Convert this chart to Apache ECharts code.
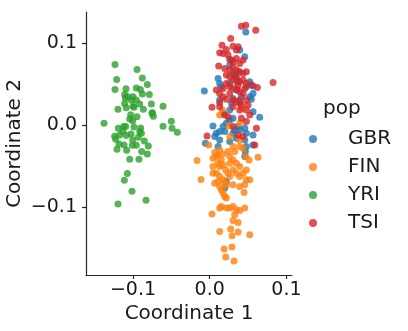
<!DOCTYPE html>
<html>
<head>
<meta charset="utf-8">
<script src="https://cdn.jsdelivr.net/npm/echarts@6/dist/echarts.min.js"></script>
<style>
  html, body { margin: 0; padding: 0; background: #fff; }
  #chart { width: 408px; height: 331px; }
</style>
</head>
<body>
<div id="chart"></div>
<script>
const populations = ['GBR', 'FIN', 'YRI', 'TSI'];
const popColors = ['#1f77b4', '#ff7f0e', '#2ca02c', '#d62728'];
const tickValues = [-0.1, 0.0, 0.1];

// [coordinate 1, coordinate 2]
const gbrPoints = [
  [-0.0070, 0.0419], [0.0109, 0.0573], [0.0130, 0.0512], [0.0152, 0.0472], [0.0261, 0.0736],
  [0.0283, 0.0797], [0.0304, 0.0634], [0.0348, 0.0593], [0.0370, 0.0654], [0.0391, 0.0919],
  [0.0457, 0.0837], [0.0522, 0.0350], [0.0565, 0.0390], [0.0543, 0.0317], [0.0565, 0.0167],
  [0.0652, 0.0098], [0.0457, -0.0037], [0.0478, -0.0098], [0.0457, -0.0179], [0.0478, -0.0260],
  [0.0457, -0.0382], [0.0565, -0.0118], [0.0465, -0.0321], [0.0304, 0.0085], [0.0261, 0.0065],
  [0.0217, 0.0024], [0.0174, -0.0016], [0.0130, -0.0077], [0.0087, -0.0098], [0.0043, -0.0008],
  [-0.0057, -0.0220], [0.0109, -0.0260], [0.0130, -0.0179], [0.0304, -0.0098], [0.0348, -0.0159],
  [0.0391, -0.0057], [0.0326, -0.0057], [0.0261, -0.0199], [0.0174, 0.0146], [0.0261, 0.0187],
  [0.0283, 0.0268], [0.0304, 0.0329], [0.0391, 0.0268], [0.0413, 0.0350], [0.0348, 0.0431],
  [0.0130, 0.0309], [0.0470, 0.1142], [0.0522, 0.0533], [0.0565, 0.0480], [0.0478, 0.0472],
  [0.0370, -0.0016], [0.0565, -0.0240], [0.0217, -0.0687], [0.0196, -0.0768], [0.0065, -0.0138],
  [0.0196, -0.0077], [0.0357, 0.0533], [0.0261, 0.0512]
];
const finPoints = [
  [-0.0013, -0.0240], [-0.0165, -0.0431], [-0.0113, -0.0663], [0.0030, -0.1085], [0.0065, -0.0333],
  [0.0087, -0.0382], [0.0109, -0.0463], [0.0130, -0.0504], [0.0152, -0.0423], [0.0174, -0.0484],
  [0.0043, -0.0504], [0.0087, -0.0585], [0.0130, -0.0626], [0.0174, -0.0667], [0.0196, -0.0707],
  [0.0217, -0.0728], [0.0130, -0.0748], [0.0152, -0.0789], [0.0174, -0.0829], [0.0196, -0.0870],
  [0.0217, -0.0890], [0.0261, -0.0382], [0.0304, -0.0423], [0.0348, -0.0463], [0.0391, -0.0504],
  [0.0304, -0.0545], [0.0348, -0.0585], [0.0391, -0.0626], [0.0435, -0.0585], [0.0478, -0.0545],
  [0.0478, -0.0667], [0.0457, -0.0728], [0.0522, -0.0667], [0.0448, -0.0821], [0.0304, -0.0728],
  [0.0261, -0.0626], [0.0261, -0.0463], [0.0326, -0.0321], [0.0391, -0.0260], [0.0435, -0.0280],
  [0.0513, -0.0423], [0.0630, -0.0390], [0.0130, -0.1012], [0.0152, -0.0992], [0.0217, -0.1012],
  [0.0261, -0.1012], [0.0304, -0.0992], [0.0348, -0.1033], [0.0391, -0.1041], [0.0457, -0.1012],
  [0.0326, -0.1093], [0.0370, -0.1187], [0.0304, -0.1163], [0.0130, -0.1297], [0.0274, -0.1268],
  [0.0291, -0.1350], [0.0370, -0.1305], [0.0522, -0.1337], [0.0187, -0.1512], [0.0209, -0.1610],
  [0.0291, -0.1488], [0.0317, -0.1659], [0.0239, -0.0321], [0.0261, -0.0138], [0.0391, -0.0179],
  [0.0304, -0.0260], [0.0043, -0.0402], [0.0109, -0.0362], [0.0252, -0.0008], [0.0165, 0.0187],
  [0.0130, 0.0126], [0.0391, 0.0024], [0.0422, 0.0207], [0.0043, -0.0585], [0.0065, -0.0707],
  [0.0109, -0.0687], [0.0391, -0.0748], [0.0470, -0.0382], [0.0209, -0.0545], [0.0239, -0.0585],
  [0.0174, -0.0350], [0.0130, -0.0301]
];
const yriPoints = [
  [-0.1235, 0.0744], [-0.0948, 0.0683], [-0.1213, 0.0561], [-0.0878, 0.0577], [-0.0813, 0.0500],
  [-0.1235, 0.0439], [-0.1091, 0.0447], [-0.0957, 0.0455], [-0.0904, 0.0439], [-0.1109, 0.0378],
  [-0.1000, 0.0350], [-0.0787, 0.0378], [-0.1100, 0.0333], [-0.0878, 0.0382], [-0.1022, 0.0309],
  [-0.1109, 0.0268], [-0.1000, 0.0236], [-0.0761, 0.0260], [-0.0609, 0.0232], [-0.1196, 0.0195],
  [-0.1087, 0.0215], [-0.0987, 0.0220], [-0.0865, 0.0195], [-0.0748, 0.0154], [-0.0735, 0.0110],
  [-0.1030, 0.0130], [-0.1043, 0.0077], [-0.1004, 0.0057], [-0.1096, -0.0016], [-0.0987, -0.0020],
  [-0.1191, -0.0037], [-0.1239, -0.0134], [-0.1122, -0.0016], [-0.0900, -0.0033], [-0.1026, -0.0106],
  [-0.0913, -0.0077], [-0.0930, -0.0146], [-0.1087, -0.0126], [-0.1226, -0.0171], [-0.1004, -0.0179],
  [-0.0957, -0.0244], [-0.0852, -0.0191], [-0.0800, -0.0252], [-0.1183, -0.0228], [-0.1117, -0.0240],
  [-0.1009, -0.0244], [-0.1209, -0.0293], [-0.1083, -0.0305], [-0.0887, -0.0321], [-0.0813, -0.0350],
  [-0.1043, -0.0415], [-0.0922, -0.0415], [-0.1074, -0.0589], [-0.1113, -0.0671], [-0.1013, -0.0805],
  [-0.0830, -0.0915], [-0.1196, -0.0963], [-0.1378, 0.0024], [-0.0609, -0.0012], [-0.0500, 0.0049],
  [-0.0491, -0.0037], [-0.0422, -0.0085], [-0.0752, 0.0146], [-0.0957, 0.0309], [-0.1065, 0.0350],
  [-0.0913, 0.0260], [-0.0948, 0.0106], [-0.1130, -0.0077], [-0.0891, -0.0098], [-0.1174, -0.0118]
];
const tsiPoints = [
  [0.0413, 0.1211], [0.0470, 0.1224], [0.0600, 0.1163], [0.0826, 0.0524], [0.0274, 0.1061],
  [0.0161, 0.0980], [0.0217, 0.0927], [0.0304, 0.0967], [0.0370, 0.0959], [0.0348, 0.0919],
  [0.0130, 0.0886], [0.0174, 0.0878], [0.0239, 0.0858], [0.0261, 0.0805], [0.0304, 0.0776],
  [0.0348, 0.0817], [0.0391, 0.0756], [0.0435, 0.0797], [0.0117, 0.0724], [0.0304, 0.0715],
  [0.0348, 0.0675], [0.0391, 0.0654], [0.0435, 0.0634], [0.0478, 0.0654], [0.0217, 0.0614],
  [0.0261, 0.0593], [0.0304, 0.0553], [0.0348, 0.0573], [0.0391, 0.0533], [0.0435, 0.0553],
  [0.0478, 0.0512], [0.0543, 0.0492], [0.0622, 0.0463], [0.0217, 0.0512], [0.0174, 0.0451],
  [0.0261, 0.0472], [0.0304, 0.0451], [0.0357, 0.0439], [0.0391, 0.0411], [0.0435, 0.0390],
  [0.0130, 0.0390], [0.0174, 0.0350], [0.0217, 0.0317], [0.0304, 0.0309], [0.0348, 0.0289],
  [0.0391, 0.0309], [0.0478, 0.0309], [0.0500, 0.0248], [0.0130, 0.0276], [0.0030, 0.0220],
  [0.0130, 0.0228], [0.0196, 0.0126], [0.0239, 0.0106], [0.0391, 0.0187], [0.0478, 0.0187],
  [0.0522, 0.0126], [0.0609, -0.0037], [0.0413, 0.0085], [0.0478, 0.0045], [0.0587, -0.0240],
  [0.0435, -0.0138], [-0.0035, -0.0130], [0.0304, -0.0016], [0.0370, -0.0118], [0.0261, 0.0390],
  [0.0196, 0.0695], [0.0261, 0.0675], [0.0326, 0.0614], [0.0370, 0.0492], [0.0457, 0.0451],
  [0.0087, 0.0431], [0.0304, 0.0228], [0.0413, 0.0248]
];
const popPoints = [gbrPoints, finPoints, yriPoints, tsiPoints];

const fontFamily = '"DejaVu Sans", sans-serif';
const tickFmt = (v) => {
  const s = Math.abs(v).toFixed(1);
  return v < -1e-9 ? '\u2212' + s : s;
};

const chart = echarts.init(document.getElementById('chart'));

const axisCommon = {
  type: 'value',
  nameLocation: 'middle',
  nameMoveOverlap: false,
  nameTextStyle: { fontFamily, fontSize: 20, color: '#1a1a1a' },
  axisLine: { show: true, onZero: false, lineStyle: { color: '#262626', width: 1.2 } },
  axisTick: { show: true, length: 4, lineStyle: { color: '#262626', width: 1.2 }, customValues: tickValues },
  axisLabel: { fontFamily, fontSize: 19, color: '#1a1a1a', customValues: tickValues, formatter: tickFmt },
  splitLine: { show: false }
};

const option = {
  backgroundColor: '#fff',
  animation: false,
  title: {
    text: 'pop',
    left: 318,
    top: 94,
    textStyle: { fontFamily, fontSize: 20, fontWeight: 'normal', color: '#1a1a1a' }
  },
  legend: {
    orient: 'vertical',
    left: 304,
    top: 124,
    itemWidth: 8,
    itemHeight: 8,
    itemGap: 8,
    icon: 'circle',
    data: populations,
    textStyle: { fontFamily, fontSize: 20, color: '#1a1a1a', padding: [0, 0, 0, 26] }
  },
  grid: { left: 86, right: 116, top: 12, bottom: 56, outerBoundsMode: 'none' },
  xAxis: Object.assign({}, axisCommon, {
    name: 'Coordinate 1',
    nameGap: 29,
    min: -0.1613,
    max: 0.1073,
    axisLabel: Object.assign({}, axisCommon.axisLabel, { margin: 6 })
  }),
  yAxis: Object.assign({}, axisCommon, {
    name: 'Coordinate 2',
    nameGap: 61,
    min: -0.183,
    max: 0.1385,
    axisLabel: Object.assign({}, axisCommon.axisLabel, { margin: 9 })
  }),
  series: populations.map((name, i) => ({
    name,
    type: 'scatter',
    data: popPoints[i],
    symbolSize: 7,
    itemStyle: { color: popColors[i], opacity: 0.8 }
  }))
};

chart.setOption(option);
</script>
</body>
</html>
